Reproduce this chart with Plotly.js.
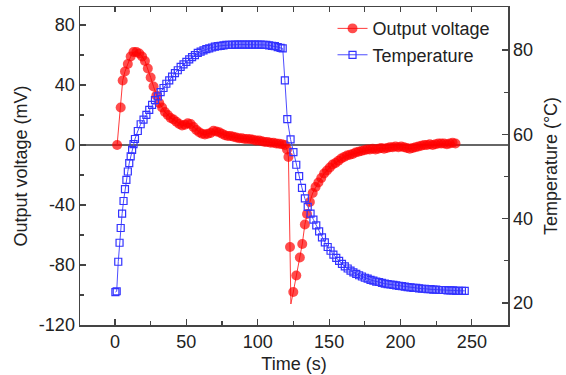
<!DOCTYPE html>
<html>
<head>
<meta charset="utf-8">
<script src="https://cdn.plot.ly/plotly-3.0.1.min.js"></script>
<style>html,body{margin:0;padding:0;background:#fff;}#chart{width:566px;height:375px;}</style>
</head>
<body>
<div id="chart"></div>
<script>
// Output voltage (mV) vs time (s)
const voltTime = [1.5,4,5.4,7,9,11,13,15,17,19,21,23,25,27,29,31,33,35,37,39,41,43,45,47,49,51,53,55,57,59,61,63,65,67,69,71,73,75,77,79,81,83,85,87,89,91,93,95,97,99,101,103,105,107,109,111,113,115,117,119,120.5,121.5,122.6,123.2,124.9,127,129.5,131.2,133,134.5,136.5,138.5,140.5,142.5,144.5,146.5,148.5,150.5,152.5,154.5,156.5,158.5,160.5,162.5,164.5,166.5,168.5,170.5,172.5,174.5,176.5,178.5,180.5,182.5,184.5,186.5,188.5,190.5,192.5,194.5,196.5,198.5,200.5,202.5,204.5,206.5,208.5,210.5,212.5,214.5,216.5,218.5,220.5,222.5,224.5,226.5,228.5,230.5,232.5,234.5,236.5,238.5];
const voltage = [0,25,43,49,54,59,62,62,61,59,56,51,45,39,33,28,25,22,20,18,17,15.5,14,13,13.5,14.5,14,12,10,8.5,7.5,7,7.5,8,9.5,9,8.5,7.5,6.5,6,6,5.5,5,4.5,4.5,4,4,3.8,3.5,3,3,2.5,2,2,1.5,1.5,1,0.8,0.5,0,-3,-8,-68,-106,-98,-87,-75,-66,-53,-46,-38,-32,-28,-25,-22,-19,-17,-15,-13,-12,-10.5,-9,-8,-7,-6.5,-6,-5,-4.5,-4,-3.5,-3,-3,-2.5,-3,-2.5,-2,-2.5,-2,-1.5,-1.5,-1,-1.5,-1,-1.5,-2,-2.5,-2,-1.5,-1,-0.5,0,0,0.5,0,0.5,1,1,1,0.5,1,1.5,1];

// Temperature (°C) vs time (s)
const tempTime = [0.3,1.2,2.3,3.2,4,5,6,7,8,9,10,11,12,13,14,16,18,20,22,24,26,28,30,32,34,36,38,40,42,44,46,48,50,52,54,56,58,60,62,64,66,68,70,72,74,76,78,80,82,84,86,88,90,92,94,96,98,100,102,104,106,108,110,112,114,116,117.5,119,120.7,123,125,127,129,131,133,135,137,139,141,143,145,147,149,151,153,155,157,159,161,163,165,167,169,171,173,175,177,179,181,183,185,187,189,191,193,195,197,199,201,203,205,207,209,211,213,215,217,219,221,223,225,227,229,231,233,235,237,239,241,243,245];
const temperature = [22.6,22.8,29.8,34.3,37.8,41.2,44.2,47,49.2,51.2,53.2,54.8,56.3,57.7,58.9,60.8,62.4,63.5,64.6,65.8,67,68.1,69,70,71,72,72.8,73.7,74.5,75.2,76,76.6,77.2,77.8,78.3,78.8,79.3,79.6,79.9,80.2,80.4,80.6,80.8,80.9,81,81.1,81.2,81.2,81.2,81.3,81.3,81.3,81.3,81.3,81.3,81.3,81.3,81.3,81.3,81.2,81.2,81.1,81,80.9,80.7,80.5,80.4,72.8,63.6,58.8,55.8,52.8,50.1,47.3,44.8,42.8,41.2,39.8,38.4,37,35.6,34.4,33.3,32.4,31.5,30.7,30,29.3,28.7,28.2,27.7,27.3,26.9,26.6,26.3,26,25.8,25.5,25.3,25.1,25,24.8,24.6,24.5,24.4,24.3,24.2,24.1,24,23.9,23.8,23.7,23.6,23.6,23.5,23.4,23.4,23.3,23.3,23.2,23.2,23.1,23.1,23.1,23,23,23,22.9,22.9,22.9,22.9];

const xTicks = [0,50,100,150,200,250];
const xMinorTicks = [25,75,125,175,225];
const yTicks = [-120,-80,-40,0,40,80];
const y2Ticks = [20,40,60,80];

const FONT = 'Arial, "Liberation Sans", sans-serif';
const TXT = '#222';
const AX = '#444';
const FS = 18;
const X_RANGE = [-24.5, 275.3];

const voltSizes = voltage.map(v => (v < -100 ? 0 : 10));

const traces = [
  {
    x: voltTime, y: voltage, name: 'Output voltage', type: 'scatter', mode: 'lines+markers',
    line: {color: '#ff3b3b', width: 1},
    marker: {symbol: 'circle', size: voltSizes, color: '#ff0000', line: {width: 0}},
    xaxis: 'x', yaxis: 'y'
  },
  {
    x: tempTime, y: temperature, name: 'Temperature', type: 'scatter', mode: 'lines+markers',
    line: {color: '#4d4dff', width: 1},
    marker: {symbol: 'square-open', size: 7, color: '#3333ff', line: {width: 1.2, color: '#3333ff'}},
    xaxis: 'x', yaxis: 'y2'
  },
  {
    // same voltage data bound to the top time axis (invisible), so that the top frame edge is drawn
    x: voltTime, y: voltage, type: 'scatter', mode: 'markers', showlegend: false, hoverinfo: 'skip',
    marker: {size: 1, opacity: 0}, xaxis: 'x2', yaxis: 'y'
  }
];

const layout = {
  width: 566, height: 375,
  margin: {l: 80, r: 58, t: 7, b: 50},
  paper_bgcolor: '#fff', plot_bgcolor: '#fff',
  font: {family: FONT, size: FS, color: TXT},
  showlegend: true,
  legend: {x: 0.59, y: 0.99, xanchor: 'left', yanchor: 'top', bgcolor: 'rgba(255,255,255,0)',
           font: {family: FONT, size: FS, color: TXT}, tracegroupgap: 0},
  xaxis: {
    range: X_RANGE, tickvals: xTicks, ticktext: xTicks.map(String),
    ticks: 'inside', ticklen: 6, tickwidth: 1.2, tickcolor: AX,
    showline: true, linecolor: AX, linewidth: 1.5, showgrid: false, zeroline: false,
    minor: {dtick: 25, tick0: 0, ticks: 'inside', ticklen: 4, tickcolor: AX, tickwidth: 1.2, showgrid: false},
    tickfont: {family: FONT, size: FS, color: TXT},
    title: {text: 'Time (s)', font: {family: FONT, size: FS, color: TXT}, standoff: 6}
  },
  xaxis2: {
    range: X_RANGE, overlaying: 'x', side: 'top', anchor: 'y',
    tickvals: xTicks.concat(xMinorTicks), showticklabels: false,
    ticks: 'inside', ticklen: 5, tickwidth: 1.2, tickcolor: AX,
    showline: true, linecolor: AX, linewidth: 1.5, showgrid: false, zeroline: false
  },
  yaxis: {
    range: [-120, 92], tickvals: yTicks, ticktext: yTicks.map(String),
    ticks: 'inside', ticklen: 6, tickwidth: 1.2, tickcolor: AX,
    showline: true, linecolor: AX, linewidth: 1.5, mirror: false, showgrid: false,
    zeroline: true, zerolinecolor: '#666', zerolinewidth: 1.2,
    minor: {dtick: 20, tick0: 0, ticks: 'inside', ticklen: 4, tickcolor: AX, tickwidth: 1.2, showgrid: false},
    tickfont: {family: FONT, size: FS, color: TXT},
    title: {text: 'Output voltage (mV)', font: {family: FONT, size: FS, color: TXT}, standoff: 6}
  },
  yaxis2: {
    range: [14.8, 90.2], tickvals: y2Ticks, ticktext: y2Ticks.map(String), overlaying: 'y', side: 'right', anchor: 'x',
    ticks: 'inside', ticklen: 6, tickwidth: 1.2, tickcolor: AX,
    showline: true, linecolor: AX, linewidth: 1.5, showgrid: false, zeroline: false,
    minor: {dtick: 10, tick0: 0, ticks: 'inside', ticklen: 4, tickcolor: AX, tickwidth: 1.2, showgrid: false},
    tickfont: {family: FONT, size: FS, color: TXT},
    title: {text: 'Temperature (°C)', font: {family: FONT, size: FS, color: TXT}, standoff: 12}
  }
};

Plotly.newPlot('chart', traces, layout, {displayModeBar: false, staticPlot: true});
</script>
</body>
</html>
